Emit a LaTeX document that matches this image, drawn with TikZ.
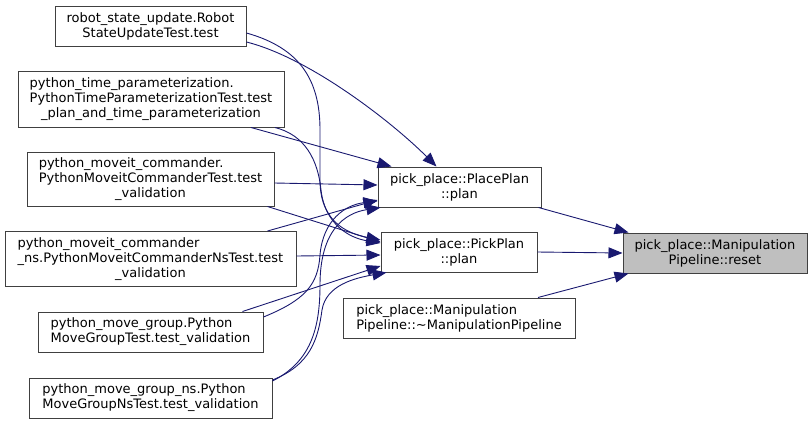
\documentclass[tikz,border=0pt]{standalone}
\usepackage{fontspec}
\setmainfont{DejaVu Sans}
\usepackage{tikz}
\usetikzlibrary{arrows.meta}
\definecolor{edgeblue}{HTML}{191970}
\definecolor{boxgray}{HTML}{404040}
\definecolor{hlgray}{HTML}{BFBFBF}
\newcommand{\ctr}[1]{\mbox{}\hfill#1\hfill\mbox{}}

\begin{document}
\begin{tikzpicture}[x=1pt,y=-1pt,
  fnbox/.style={draw=boxgray, fill=white, line width=1pt, align=left, inner sep=3pt,
    font=\fontsize{13}{15}\selectfont},
  callarrow/.style={edgeblue, line width=0.9pt, -{Triangle[length=14pt,width=11pt]}}]
  \useasboundingbox (0,0) rectangle (812,424);

  \node[fnbox, minimum width=191pt, minimum height=40pt] (rsu) at (150.5,26)
    {robot\_state\_update.Robot\\\ctr{StateUpdateTest.test}};
  \node[fnbox, minimum width=266pt, minimum height=56pt] (ptp) at (151,99)
    {python\_time\_parameterization.\\PythonTimeParameterizationTest.test\\\ctr{\_plan\_and\_time\_parameterization}};
  \node[fnbox, minimum width=247pt, minimum height=54pt] (pmc) at (150.5,179)
    {python\_moveit\_commander.\\PythonMoveitCommanderTest.test\\\ctr{\_validation}};
  \node[fnbox, minimum width=291pt, minimum height=55pt] (pmcn) at (150.5,259)
    {python\_moveit\_commander\\\_ns.PythonMoveitCommanderNsTest.test\\\ctr{\_validation}};
  \node[fnbox, minimum width=225pt, minimum height=40pt] (pmg) at (150.5,332)
    {python\_move\_group.Python\\MoveGroupTest.test\_validation};
  \node[fnbox, minimum width=243pt, minimum height=40pt] (pmgn) at (150.5,398)
    {python\_move\_group\_ns.Python\\MoveGroupNsTest.test\_validation};

  \node[fnbox, minimum width=163pt, minimum height=40pt] (placeplan) at (459.5,187)
    {pick\_place::PlacePlan\\\ctr{::plan}};
  \node[fnbox, minimum width=156pt, minimum height=40pt] (pickplan) at (459,252)
    {pick\_place::PickPlan\\\ctr{::plan}};
  \node[fnbox, minimum width=232pt, minimum height=40pt] (mp) at (459,318)
    {pick\_place::Manipulation\\Pipeline::\textasciitilde ManipulationPipeline};

  \node[fnbox, fill=hlgray, minimum width=184pt, minimum height=40pt] (reset) at (715,253)
    {pick\_place::Manipulation\\\ctr{Pipeline::reset}};

  \draw[callarrow] (pickplan.east) -- (reset.west);
  \draw[callarrow] ([xshift=-3pt]placeplan.south east) -- ([xshift=6pt]reset.north west);
  \draw[callarrow] ([xshift=79pt]mp.north) -- ([xshift=6pt]reset.south west);

  \draw[callarrow] ([yshift=-16pt]rsu.east) .. controls (310,58) and (392,122) .. ([xshift=-23pt]placeplan.north);
  \draw[callarrow] ([yshift=-7pt]rsu.east) .. controls (300,48) and (320,80) .. (320,130)
    -- (320,180) .. controls (320,220) and (345,233) .. ([yshift=12pt]pickplan.west);
  \draw[callarrow] ([xshift=100pt]ptp.south) -- ([xshift=-68pt]placeplan.north);
  \draw[callarrow] ([xshift=124pt]ptp.south) .. controls (305,135) and (318,160) .. (321,190)
    .. controls (325,225) and (350,238) .. ([yshift=9pt]pickplan.west);
  \draw[callarrow] ([yshift=-4pt]pmc.east) -- ([yshift=2pt]placeplan.west);
  \draw[callarrow] ([xshift=117pt]pmc.south) -- ([yshift=10pt]pickplan.west);
  \draw[callarrow] ([xshift=117pt]pmcn.north) -- ([yshift=-13pt]placeplan.west);
  \draw[callarrow] ([yshift=3pt]pmcn.east) -- ([yshift=-3pt]pickplan.west);
  \draw[callarrow] ([xshift=92pt]pmg.north) -- ([yshift=-14pt]pickplan.west);
  \draw[callarrow] ([yshift=15pt]pmg.east) .. controls (305,300) and (318,285) .. (320,255)
    .. controls (323,220) and (345,205) .. ([yshift=-14pt]placeplan.west);
  \draw[callarrow] ([yshift=17pt]pmgn.east) .. controls (310,362) and (320,330) .. (320,285)
    .. controls (320,230) and (345,213) .. ([xshift=3pt]placeplan.south west);
  \draw[callarrow] ([yshift=18pt]pmgn.east) .. controls (310,365) and (318,340) .. (322,310)
    .. controls (326,285) and (355,278) .. ([xshift=6pt]pickplan.south west);
\end{tikzpicture}
\end{document}
